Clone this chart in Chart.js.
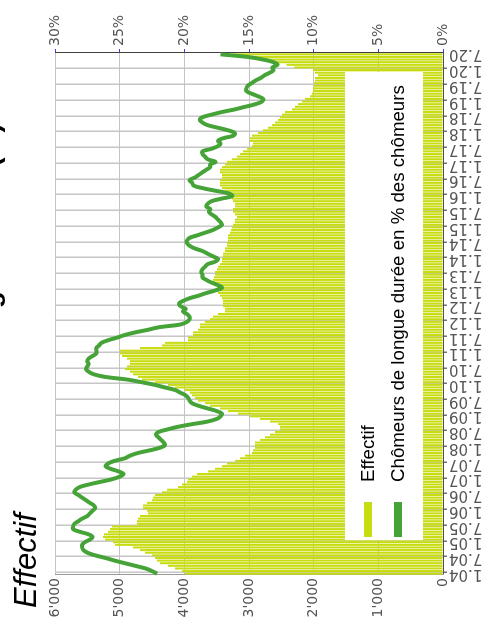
<!DOCTYPE html>
<html>
<head>
<meta charset="utf-8">
<script src="https://cdn.jsdelivr.net/npm/chart.js@4.4.1/dist/chart.umd.min.js"></script>
<style>
  html, body { margin: 0; padding: 0; background: #fff; overflow: hidden; }
  /* the chart is drawn landscape and turned a quarter turn to the left */
  #wrap { position: absolute; left: 0; top: 0; width: 630px; height: 493px;
          transform-origin: 0 0; transform: translateY(630px) rotate(-90deg); }
</style>
</head>
<body>
<div id="wrap"><canvas id="chart" width="630" height="493"></canvas></div>
<script>
const firstYear = 2004;
const monthCount = 199;

const tickLabels = [
  '1.04', '7.04', '1.05', '7.05', '1.06', '7.06', '1.07', '7.07', '1.08', '7.08',
  '1.09', '7.09', '1.10', '7.10', '1.11', '7.11', '1.12', '7.12', '1.13', '7.13',
  '1.14', '7.14', '1.15', '7.15', '1.16', '7.16', '1.17', '7.17', '1.18', '7.18',
  '1.19', '7.19', '1.20', '7.20'
];

// Effectif (monthly, 1.04 -> 7.20)
const effectif = [
  3990, 4036, 4144, 4253, 4376, 4423, 4454, 4500, 4608, 4686, 4794, 5072, // 2004
  5103, 5227, 5258, 5242, 5180, 5150, 5118, 4732, 4732, 4717, 4686, 4562, // 2005
  4577, 4639, 4639, 4577, 4500, 4485, 4454, 4345, 4268, 4098, 4036, 3959, // 2006
  3943, 3881, 3804, 3634, 3526, 3418, 3340, 3216, 3139, 3062, 2954, 2938, // 2007
  2907, 2907, 2907, 2830, 2753, 2675, 2598, 2520, 2520, 2551, 2675, 2830, // 2008
  2985, 3170, 3325, 3449, 3603, 3680, 3789, 3835, 3881, 3912, 3990, 4144, // 2009
  4253, 4454, 4655, 4717, 4794, 4840, 4918, 4887, 4840, 4840, 4887, 4964, // 2010
  4995, 4995, 4686, 4345, 4299, 3943, 3943, 3866, 3866, 3789, 3758, 3758, // 2011
  3680, 3603, 3557, 3479, 3371, 3371, 3402, 3402, 3402, 3418, 3449, 3479, // 2012
  3479, 3495, 3541, 3557, 3557, 3541, 3526, 3526, 3495, 3479, 3449, 3418, // 2013
  3418, 3402, 3402, 3371, 3371, 3340, 3340, 3325, 3325, 3325, 3294, 3278, // 2014
  3263, 3247, 3216, 3216, 3186, 3216, 3247, 3247, 3216, 3216, 3247, 3263, // 2015
  3294, 3325, 3371, 3418, 3449, 3449, 3449, 3418, 3418, 3449, 3449, 3418, // 2016
  3371, 3340, 3263, 3186, 3139, 3093, 3031, 2954, 2938, 2985, 2985, 2954, // 2017
  2861, 2783, 2706, 2644, 2598, 2551, 2520, 2490, 2443, 2335, 2289, 2242, // 2018
  2180, 2134, 2057, 2026, 2010, 2010, 1995, 1995, 1980, 1980, 1933, 1980, // 2019
  2010, 2300, 2420, 2600, 2800, 3050, 3250                                // 2020
];

// Chômeurs de longue durée en % des chômeurs
const longTermShare = [
  22.1, 22.5, 23.0, 23.8, 24.6, 25.4, 26.1, 26.9, 27.5, 27.8, 27.9, 27.9,
  27.7, 27.3, 27.1, 27.4, 28.1, 28.6, 28.6, 28.5, 28.2, 27.9, 27.5, 27.3,
  27.1, 26.9, 27.0, 27.3, 27.6, 27.9, 28.2, 28.5, 28.4, 28.1, 27.4, 26.5,
  25.6, 25.0, 24.7, 25.1, 25.7, 26.1, 25.9, 25.4, 24.6, 24.2, 23.6, 22.7,
  21.9, 21.5, 21.6, 21.8, 22.0, 22.2, 22.0, 21.3, 20.5, 19.4, 18.2, 17.5,
  17.2, 17.1, 17.5, 18.2, 18.9, 19.4, 19.6, 19.7, 19.9, 20.3, 20.7, 21.5,
  22.3, 23.3, 24.4, 26.1, 27.0, 27.4, 27.6, 27.5, 27.4, 27.5, 27.4, 27.1,
  26.8, 26.8, 26.8, 26.6, 26.4, 25.9, 25.2, 24.6, 23.8, 22.8, 21.9, 20.3,
  19.8, 19.6, 19.6, 19.8, 20.1, 19.9, 20.3, 20.4, 20.1, 19.6, 18.9, 18.3,
  17.6, 17.1, 17.4, 17.9, 18.3, 18.6, 18.6, 18.7, 18.6, 18.4, 18.2, 17.6,
  17.4, 17.8, 18.2, 18.6, 19.2, 19.6, 19.8, 19.8, 19.6, 19.0, 18.4, 17.8,
  17.4, 17.1, 17.2, 17.4, 17.6, 17.9, 18.1, 18.0, 18.3, 18.2, 17.9, 17.1,
  16.3, 16.6, 17.6, 18.6, 19.3, 19.4, 19.6, 19.2, 18.9, 18.6, 18.3, 18.0,
  18.0, 17.6, 18.2, 18.4, 18.6, 18.6, 17.9, 17.4, 17.2, 17.4, 17.0, 16.2,
  16.1, 16.6, 17.4, 18.2, 18.6, 18.8, 18.6, 17.9, 17.1, 16.1, 15.3, 14.5,
  14.0, 13.9, 14.3, 14.8, 15.2, 15.2, 15.1, 14.8, 14.5, 14.1, 13.8, 13.4,
  13.1, 13.2, 12.8, 13.1, 13.9, 15.1, 17.2
];

const titleText = 'Chômeurs de longue durée (%)';
const axisTitle = 'Effectif';
const barLabel = 'Effectif';
const lineLabel = 'Chômeurs de longue durée en % des chômeurs';

const barColor = '#c8dc12';
const lineColor = '#45a338';
const tickFont = { family: 'DejaVu Sans', size: 14 };

const months = [];
for (let i = 0; i < monthCount; i++) {
  const yy = String((firstYear + Math.floor(i / 12)) % 100).padStart(2, '0');
  months.push((i % 12 + 1) + '.' + yy);
}

function swissNumber(v) {
  return String(v).replace(/\B(?=(\d{3})+(?!\d))/g, "'");
}

// white legend box inside the plot + titles
const overlay = {
  id: 'overlay',
  afterDatasetsDraw(chart) {
    const ctx = chart.ctx;
    const area = chart.chartArea;
    ctx.save();
    const bx = area.left + 35, by = area.bottom - 98;
    ctx.fillStyle = '#ffffff';
    ctx.fillRect(bx, by, 468, 78);

    const items = [[barLabel, barColor, by + 23], [lineLabel, lineColor, by + 53]];
    ctx.font = '18.7px "Liberation Sans", Arial, sans-serif';
    ctx.textBaseline = 'middle';
    for (const [text, color, y] of items) {
      ctx.fillStyle = color;
      ctx.fillRect(bx + 3, y - 4, 35, 8);
      ctx.fillStyle = '#000';
      ctx.fillText(text, bx + 58, y + 1);
    }
    ctx.restore();
  },
  afterDraw(chart) {
    const ctx = chart.ctx;
    ctx.save();
    ctx.fillStyle = '#000';
    ctx.textBaseline = 'alphabetic';
    // main title sits above the canvas edge, only its descenders show
    ctx.font = 'bold 28px "Liberation Sans", Arial, sans-serif';
    ctx.fillText(titleText, 93, -1);
    ctx.font = 'italic 31px "Liberation Sans", Arial, sans-serif';
    ctx.fillText(axisTitle, 22, 36);
    ctx.restore();
  }
};

const ctx = document.getElementById('chart').getContext('2d');
new Chart(ctx, {
  type: 'bar',
  data: {
    labels: months,
    datasets: [{
      type: 'line',
      label: lineLabel,
      data: longTermShare,
      yAxisID: 'pct',
      borderColor: lineColor,
      borderWidth: 4,
      pointRadius: 0,
      tension: 0.4,
      order: 0
    }, {
      type: 'bar',
      label: barLabel,
      data: effectif,
      yAxisID: 'eff',
      backgroundColor: barColor,
      barPercentage: 0.78,
      categoryPercentage: 1,
      order: 1
    }]
  },
  options: {
    responsive: false,
    animation: false,
    devicePixelRatio: 1,
    layout: { padding: { top: 55, left: 0, right: 0, bottom: 0 } },
    plugins: {
      legend: { display: false },
      tooltip: { enabled: false }
    },
    scales: {
      x: {
        offset: true,
        grid: {
          offset: true,
          color: c => (c.index % 6 === 1 ? '#c6c6c6' : 'rgba(0,0,0,0)'),
          tickColor: c => (c.index % 6 === 1 ? '#707070' : 'rgba(0,0,0,0)'),
          lineWidth: 1.5,
          tickLength: 4
        },
        border: { color: '#505050', width: 1 },
        ticks: {
          autoSkip: false,
          minRotation: 90,
          maxRotation: 90,
          padding: 2,
          color: '#555',
          font: { family: 'DejaVu Sans', size: 15 },
          callback: (v, i) => (tickLabels.includes(months[i]) ? months[i] : '')
        },
        afterFit: s => { s.height = 50; }
      },
      eff: {
        position: 'left',
        min: 0,
        max: 6000,
        ticks: { stepSize: 1000, color: '#555', font: tickFont, padding: 3, callback: v => swissNumber(v) },
        grid: { color: '#c4c4c4', drawTicks: false },
        border: { color: '#9a9a9a' },
        afterFit: s => { s.width = 55; }
      },
      pct: {
        position: 'right',
        min: 0,
        max: 30,
        ticks: { stepSize: 5, color: '#555', font: tickFont, padding: 3, callback: v => v + '%' },
        grid: { drawOnChartArea: false, color: '#3a3aff', tickLength: 4 },
        border: { color: '#404040' },
        afterFit: s => { s.width = 53; }
      }
    }
  },
  plugins: [overlay]
});
</script>
</body>
</html>
